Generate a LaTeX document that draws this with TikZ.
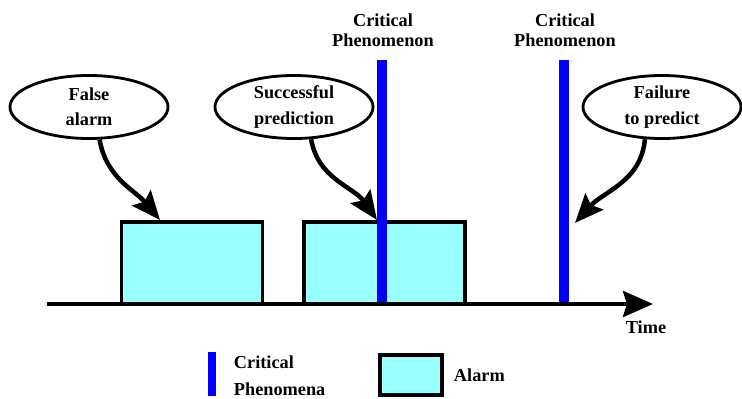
\documentclass[tikz,border=0pt]{standalone}
\usepackage{fontspec}
\setmainfont{Liberation Serif}
\usepackage{tikz}
\usetikzlibrary{shapes.geometric,arrows.meta}
\definecolor{alarmcyan}{RGB}{153,255,255}
\definecolor{critblue}{RGB}{0,0,255}

\begin{document}
\begin{tikzpicture}[x=0.025cm,y=-0.025cm,
	callout/.style={shape=ellipse,draw=black,line width=2pt,minimum width=3.95cm,minimum height=1.575cm,inner sep=0pt,align=center,font=\fontsize{13}{18}\selectfont\bfseries},
	alarmbox/.style={shape=rectangle,draw=black,fill=alarmcyan,line width=2.6pt,inner sep=0pt},
	critline/.style={shape=rectangle,fill=critblue,inner sep=0pt,minimum width=0.25cm},
	lbl/.style={align=center,font=\fontsize{13}{14.5}\selectfont\bfseries},
	pointer/.style={line width=3.2pt,-{Stealth[length=0.72cm,width=0.6cm,inset=0.12cm]}}]
	\useasboundingbox (0,0) rectangle (742,399);

	% alarms on the time line
	\node[alarmbox,minimum width=3.525cm,minimum height=2.05cm] (alarm1) at (192, 263)   {};
	\node[alarmbox,minimum width=4.025cm,minimum height=2.05cm] (alarm2) at (384.5, 263) {};

	\coordinate (t0) at (47, 304);
	\coordinate (t1) at (653, 304);
	\path[line width=2.8pt,-{Stealth[length=0.75cm,width=0.65cm,inset=0.1cm]}] (t0) edge (t1);
	\node[lbl] (time) at (646, 327) {Time};

	% critical phenomena
	\node[critline,minimum height=6.05cm] (crit1) at (382, 181) {};
	\node[critline,minimum height=6.05cm] (crit2) at (564, 181) {};
	\node[lbl] (critlbl1) at (383, 30) {Critical\\Phenomenon};
	\node[lbl] (critlbl2) at (565, 30) {Critical\\Phenomenon};

	% callouts
	\node[callout] (falsealarm) at (89, 107)  {False\\alarm};
	\node[callout] (success)    at (294, 107) {Successful\\prediction};
	\node[callout] (failure)    at (662, 107) {Failure\\to predict};

	\coordinate (hit1) at (160, 220);
	\coordinate (hit2) at (377, 220);
	\coordinate (hit3) at (575, 223);

	\path[pointer] (falsealarm.-72) edge[out=-80,in=130] (hit1);
	\path[pointer] (success.-62)    edge[out=-80,in=125] (hit2);
	\path[pointer] (failure.-118)   edge[out=-95,in=48]  (hit3);

	% legend
	\node[critline,minimum width=0.2cm,minimum height=1.1cm] (critkey) at (212, 374) {};
	\node[lbl,align=left,anchor=west,font=\fontsize{13}{19}\selectfont\bfseries] (critkeylbl) at (229, 376) {Critical\\Phenomena};
	\node[alarmbox,minimum width=1.55cm,minimum height=1cm] (alarmkey) at (411, 375) {};
	\node[lbl,anchor=west] (alarmkeylbl) at (449, 375) {Alarm};
\end{tikzpicture}
\end{document}
